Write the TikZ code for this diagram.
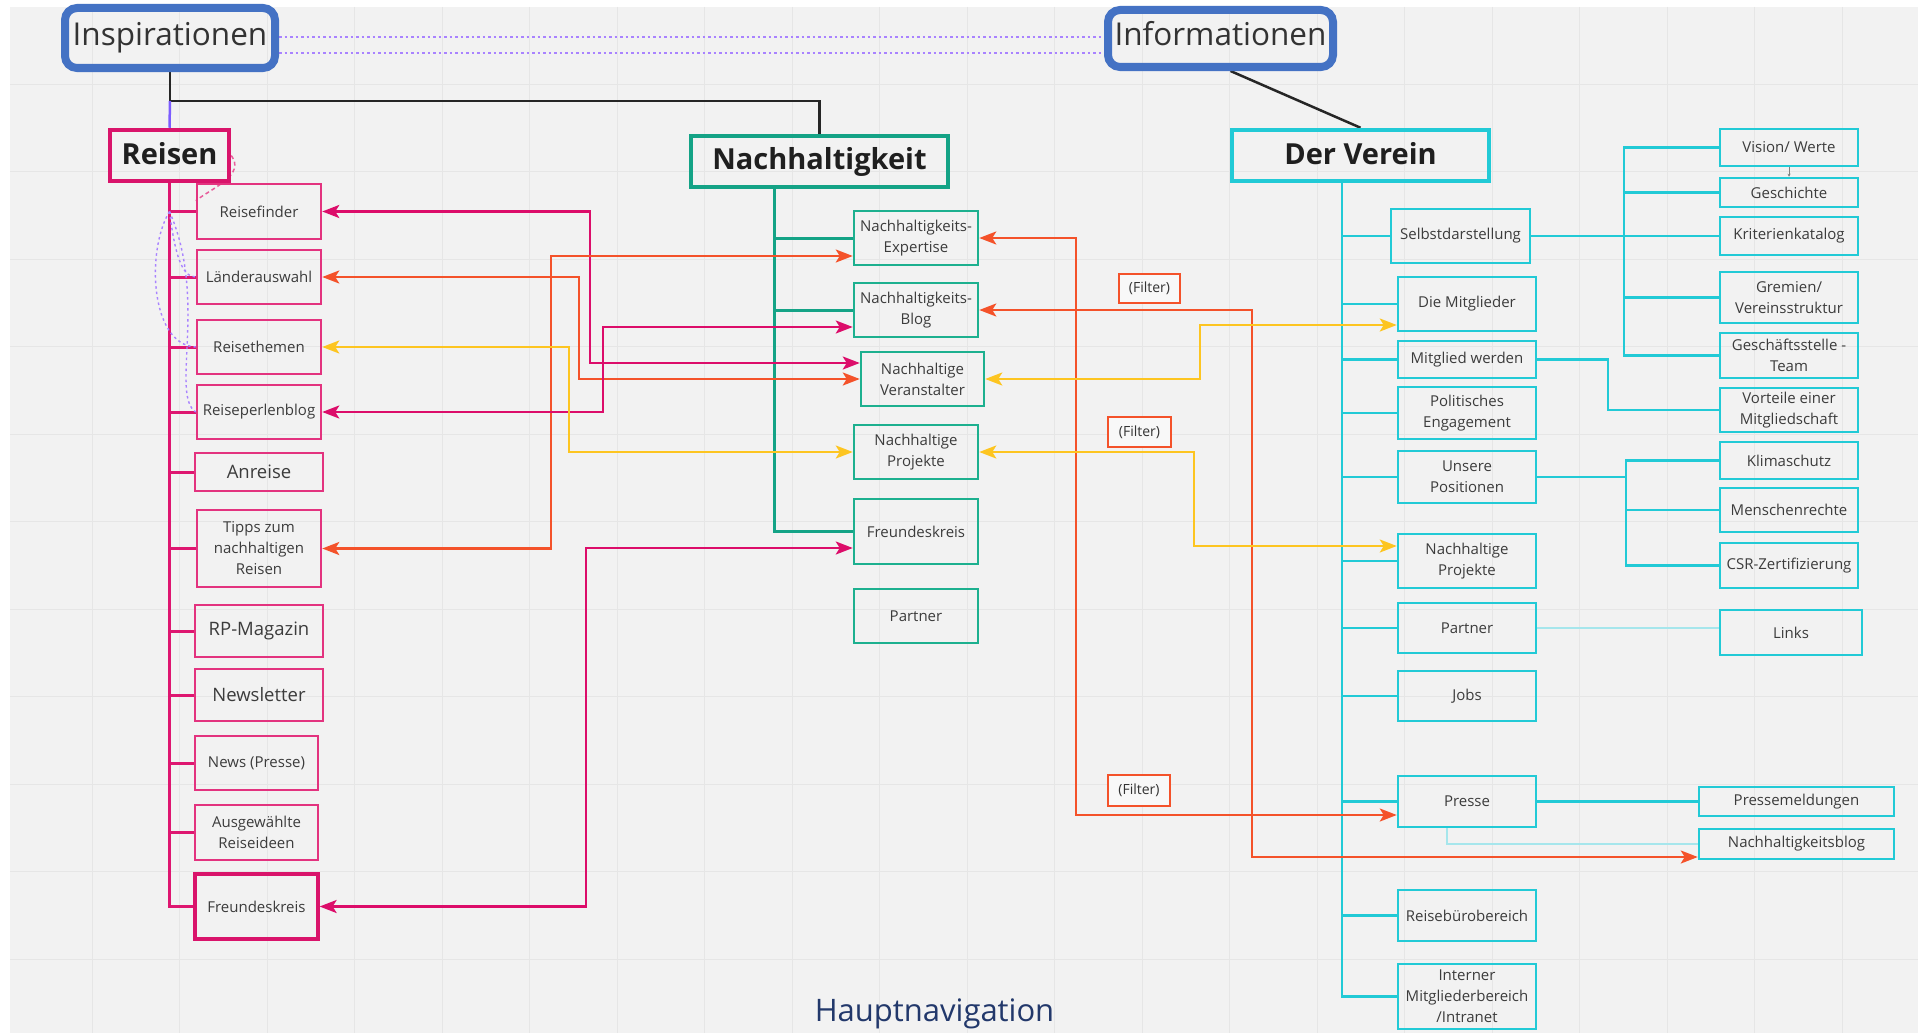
\documentclass[tikz,border=0pt]{standalone}
\usepackage{fontspec}
\setmainfont{Open Sans}
\usetikzlibrary{arrows.meta,calc}
\definecolor{bgc}{HTML}{F2F2F2}
\definecolor{gridc}{HTML}{E6E6E6}
\definecolor{txt}{HTML}{3C3C3C}
\definecolor{pinkhead}{HTML}{D9146B}
\definecolor{pinkbox}{HTML}{E3337F}
\definecolor{pinkln}{HTML}{DE1670}
\definecolor{mg}{HTML}{DC0D6A}
\definecolor{orng}{HTML}{F4522A}
\definecolor{yel}{HTML}{FDC521}
\definecolor{tealh}{HTML}{14A386}
\definecolor{tealb}{HTML}{1DB08F}
\definecolor{cyanb}{HTML}{22CAD6}
\definecolor{cyanf}{HTML}{A6E6EC}
\definecolor{topblue}{HTML}{4472C4}
\definecolor{viol}{HTML}{7C5CFF}
\definecolor{pdotc}{HTML}{A983FF}
\definecolor{navy}{HTML}{22386B}
\pgfdeclarelayer{back}
\pgfdeclarelayer{lines}
\pgfsetlayers{back,lines,main}
\newcommand{\upby}[2]{\raisebox{#1}[\height][\depth]{#2}}
\begin{document}
\begin{tikzpicture}[x=1pt,y=-1pt,
 box/.style={draw, rectangle, inner sep=0pt, align=center, text=txt, line width=2.5pt, font=\fontsize{15}{21}\selectfont},
 pbox/.style={box, draw=pinkbox},
 tbox/.style={box, draw=tealb},
 cbox/.style={box, draw=cyanb},
 midtext/.style={font=\fontsize{18.5}{22}\selectfont},
 head/.style={draw, rectangle, line width=4.5pt, inner sep=0pt, text=black!88, font=\fontsize{29}{34}\selectfont\bfseries},
 topbox/.style={draw=topblue, line width=8pt, rounded corners=12pt, inner sep=0pt, text=black!80, font=\fontsize{31.5}{38}\selectfont},
 filt/.style={draw=orng, fill=bgc!50!white, line width=2pt, inner sep=0pt, text=black!80, font=\fontsize{14}{16}\selectfont},
 link/.style={line width=2.5pt, {Stealth[length=17pt,width=13pt,inset=4pt]}-{Stealth[length=17pt,width=13pt,inset=4pt]}},
 ptrunk/.style={draw=pinkln, line width=3pt},
 ttrunk/.style={draw=tealh, line width=3pt},
 ctrunk/.style={draw=cyanb, line width=2.5pt},
 gridln/.style={draw=gridc, line width=1pt},
 pdot/.style={draw=pdotc, line width=1.8pt, dash pattern=on 2.5pt off 3pt}
]
\useasboundingbox (0,0) rectangle (1918,1033);
\begin{pgfonlayer}{back}
 \fill[white] (0,0) rectangle (1918,1033);
 \fill[bgc] (10,7) rectangle (1918,1033);
 \foreach \gx in {92,179.5,...,1918} \draw[gridln] (\gx,7) -- (\gx,1033);
 \foreach \gy in {84,171.5,...,1033} \draw[gridln] (10,\gy) -- (1918,\gy);
\end{pgfonlayer}

% top level
\node[topbox, minimum width=210pt, minimum height=60pt] (inspir) at (170,38) {Inspirationen};
\node[topbox, minimum width=225pt, minimum height=57pt] (info) at (1220.5,38.5) {\upby{5pt}{Informationen}};
\node[head, draw=pinkhead, minimum width=119pt, minimum height=51pt] (reisen) at (169.5,155.5) {\upby{2pt}{Reisen}};
\node[head, draw=tealh, minimum width=257pt, minimum height=51pt] (nach) at (819.5,161.5) {Nachhaltigkeit};
\node[head, draw=cyanb, minimum width=257pt, minimum height=51pt] (verein) at (1360.5,155.5) {\upby{2pt}{Der Verein}};

% Reisen column
\node[pbox, minimum width=124pt, minimum height=55pt] (r1) at (259,211.5) {Reisefinder};
\node[pbox, minimum width=124pt, minimum height=54pt] (r2) at (259,277) {Länderauswahl};
\node[pbox, minimum width=124pt, minimum height=54pt] (r3) at (259,347) {Reisethemen};
\node[pbox, minimum width=124pt, minimum height=54pt] (r4) at (259,412) {Reiseperlenblog};
\node[pbox, midtext, minimum width=128pt, minimum height=38pt] (r5) at (259,472) {Anreise};
\node[pbox, minimum width=124pt, minimum height=77pt] (r6) at (259,548.5) {Tipps zum\\nachhaltigen\\Reisen};
\node[pbox, midtext, minimum width=128pt, minimum height=52pt] (r7) at (259,631) {RP-Magazin};
\node[pbox, midtext, minimum width=128pt, minimum height=52pt] (r8) at (259,695) {Newsletter};
\node[pbox, minimum width=123pt, minimum height=54pt] (r9) at (256.5,763) {News (Presse)};
\node[pbox, minimum width=123pt, minimum height=55pt] (r10) at (256.5,832.5) {Ausgewählte\\Reiseideen};
\node[pbox, line width=3.2pt, draw=pinkhead, minimum width=123pt, minimum height=65pt] (r11) at (256.5,906.5) {Freundeskreis};

% Nachhaltigkeit column
\node[tbox, minimum width=124pt, minimum height=54pt] (n1) at (916,238) {Nachhaltigkeits-\\Expertise};
\node[tbox, minimum width=124pt, minimum height=54pt] (n2) at (916,310) {Nachhaltigkeits-\\Blog};
\node[tbox, minimum width=123pt, minimum height=54pt] (n3) at (922.5,379) {Nachhaltige\\Veranstalter};
\node[tbox, minimum width=124pt, minimum height=54pt] (n4) at (916,452) {Nachhaltige\\Projekte};
\node[tbox, minimum width=124pt, minimum height=65pt] (n5) at (916,531.5) {Freundeskreis};
\node[tbox, minimum width=124pt, minimum height=54pt] (n6) at (916,616) {Partner};

% Verein column
\node[cbox, minimum width=139pt, minimum height=54pt] (v1) at (1460.5,236) {Selbstdarstellung};
\node[cbox, minimum width=138pt, minimum height=54pt] (v2) at (1467,304) {Die Mitglieder};
\node[cbox, minimum width=138pt, minimum height=37pt] (v3) at (1467,359.5) {Mitglied werden};
\node[cbox, minimum width=138pt, minimum height=52pt] (v4) at (1467,413) {Politisches\\Engagement};
\node[cbox, minimum width=138pt, minimum height=52pt] (v5) at (1467,477) {Unsere\\Positionen};
\node[cbox, minimum width=138pt, minimum height=54pt] (v6) at (1467,561) {Nachhaltige\\Projekte};
\node[cbox, minimum width=138pt, minimum height=50pt] (v7) at (1467,628) {Partner};
\node[cbox, minimum width=138pt, minimum height=50pt] (v8) at (1467,696) {Jobs};
\node[cbox, minimum width=138pt, minimum height=51pt] (v9) at (1467,801.5) {Presse};
\node[cbox, minimum width=138pt, minimum height=51pt] (v10) at (1467,915.5) {Reisebürobereich};
\node[cbox, minimum width=138pt, minimum height=65pt] (v11) at (1467,996.5) {Interner\\Mitgliederbereich\\/Intranet};

% right column
\node[cbox, minimum width=138pt, minimum height=37pt] (w1) at (1789,147.5) {Vision/ Werte};
\node[cbox, minimum width=138pt, minimum height=29pt] (w2) at (1789,192.5) {Geschichte};
\node[cbox, minimum width=138pt, minimum height=38pt] (w3) at (1789,236) {Kriterienkatalog};
\node[cbox, minimum width=138pt, minimum height=51pt] (w4) at (1789,297.5) {Gremien/\\Vereinsstruktur};
\node[cbox, minimum width=138pt, minimum height=45pt] (w5) at (1789,355.5) {Geschäftsstelle -\\Team};
\node[cbox, minimum width=138pt, minimum height=44pt] (w6) at (1789,410) {Vorteile einer\\Mitgliedschaft};
\node[cbox, minimum width=138pt, minimum height=37pt] (w7) at (1789,460.5) {Klimaschutz};
\node[cbox, minimum width=138pt, minimum height=44pt] (w8) at (1789,510) {Menschenrechte};
\node[cbox, minimum width=138pt, minimum height=45pt] (w9) at (1789,565.5) {CSR-Zertifizierung};
\node[cbox, minimum width=142pt, minimum height=45pt] (w10) at (1791,632.5) {Links};
\node[cbox, minimum width=195pt, minimum height=29pt] (w11) at (1796.5,801.5) {Pressemeldungen};
\node[cbox, minimum width=195pt, minimum height=30pt] (w12) at (1796.5,844) {Nachhaltigkeitsblog};

% filter labels
\node[filt, minimum width=61pt, minimum height=29pt] (f1) at (1149.5,288) {(Filter)};
\node[filt, minimum width=63pt, minimum height=30pt] (f2) at (1139.5,432) {(Filter)};
\node[filt, minimum width=62pt, minimum height=31pt] (f3) at (1139,790.5) {(Filter)};

% title
\node[text=navy, font=\fontsize{31}{36}\selectfont, inner sep=0pt] (title) at (934.5,1014) {Hauptnavigation};

% helper coordinates
\coordinate (jn) at ($(inspir.south)+(0,29)$);
\coordinate (d1) at (0,37);
\coordinate (d2) at (0,53);
\coordinate (ntr) at ($(nach.south)+(-45.5,0)$);
\coordinate (vtr) at ($(verein.south)+(-18.5,0)$);
\coordinate (bus1) at (1624,0);
\coordinate (bus2) at (1608,0);
\coordinate (bus3) at (1626,0);
\coordinate (pc) at (reisen.south |- r1.west);
\coordinate (ya) at (0,363);
\coordinate (yb) at (0,256);
\coordinate (yc) at (0,327);
\coordinate (yd) at (0,548);
\coordinate (ye) at (0,815);
\coordinate (yf) at (0,857);
\coordinate (yg) at (0,325);
\coordinate (yh) at (0,546);

\begin{pgfonlayer}{lines}
 % top connections
 \draw[black!85, line width=2.5pt] (inspir.south) -- (jn) -| (nach.north);
 \draw[viol, line width=2.5pt] (jn) -- (reisen.north);
 \draw[black!85, line width=2.5pt] ($(info.south)+(10,0)$) -- (verein.north);
 \draw[pdot] (inspir.east |- d1) -- (info.west |- d1);
 \draw[pdot] (inspir.east |- d2) -- (info.west |- d2);
 % Reisen tree
 \draw[ptrunk] (reisen.south) |- (r11.west);
 \foreach \n in {r1,r2,r3,r4,r5,r6,r7,r8,r9,r10} \draw[ptrunk] (reisen.south |- \n.west) -- (\n.west);
 \draw[pinkln!70, line width=1.5pt, dash pattern=on 4pt off 3pt] (reisen.east) .. controls (246,175) and (212,188) .. ($(r1.north west)+(0,18)$);
 \draw[pdot, line width=1.4pt] (pc) .. controls (175,255) and (182,277) .. (r2.west);
 \draw[pdot, line width=1.4pt] (pc) .. controls (146,250) and (150,345) .. (r3.west);
 \draw[pdot, line width=1.4pt] (pc) .. controls (208,300) and (170,395) .. (r4.west);
 % Nachhaltigkeit tree
 \draw[ttrunk] (ntr) |- (n5.west);
 \foreach \n in {n1,n2} \draw[ttrunk] (ntr |- \n.west) -- (\n.west);
 % Verein tree
 \draw[ctrunk] (vtr) |- (v11.west);
 \foreach \n in {v1,v2,v3,v4,v5,v6,v7,v8,v9,v10} \draw[ctrunk] (vtr |- \n.west) -- (\n.west);
 \draw[ctrunk] (v1.east) -- (v1.east -| bus1);
 \draw[ctrunk] (w1.west) -| (bus1 |- w5.west) -- (w5.west);
 \foreach \n in {w2,w3,w4} \draw[ctrunk] (bus1 |- \n.west) -- (\n.west);
 \draw[ctrunk] (v3.east) -| (bus2 |- w6.west) -- (w6.west);
 \draw[ctrunk] (v5.east) -- (v5.east -| bus3);
 \draw[ctrunk] (w7.west) -| (bus3 |- w9.west) -- (w9.west);
 \draw[ctrunk] (bus3 |- w8.west) -- (w8.west);
 \draw[cyanf, line width=2pt] (v7.east) -- (v7.east -| w10.west);
 \draw[ctrunk] (v9.east) -- (v9.east -| w11.west);
 \draw[cyanf, line width=2pt] ($(v9.south)+(-20,0)$) |- (w12.west);
 \draw[gray, line width=0.8pt, -{Stealth[length=3pt,width=3pt]}] (w1.south) -- (w2.north);
\end{pgfonlayer}

% cross links
\draw[link, mg] (r1.east) -| (590,363) -- (n3.west |- ya);
\draw[link, orng] (r2.east) -| (579,379) -- (n3.west);
\draw[link, orng] (r6.east) -| (551,256) -- (n1.west |- yb);
\draw[link, mg] (r4.east) -| (603,327) -- (n2.west |- yc);
\draw[link, yel] (r3.east) -| (569,452) -- (n4.west);
\draw[link, mg] (r11.east) -| (586,548) -- (n5.west |- yd);
\draw[link, orng] (n1.east) -| (1076,815) -- (v9.west |- ye);
\draw[link, orng] (n2.east) -| (1252,857) -- (w12.west |- yf);
\draw[link, yel] (n3.east) -| (1200,325) -- (v2.west |- yg);
\draw[link, yel] (n4.east) -| (1194,546) -- (v6.west |- yh);
\end{tikzpicture}
\end{document}
